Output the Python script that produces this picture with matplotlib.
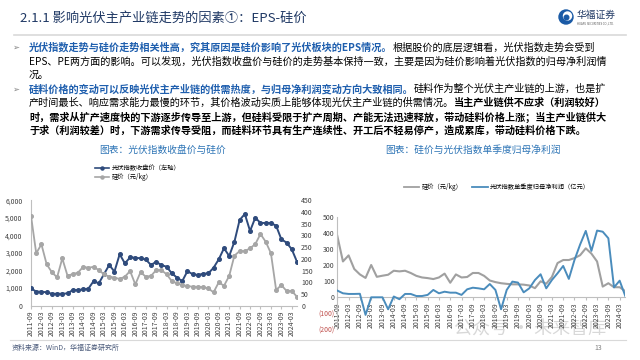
import matplotlib
matplotlib.use("Agg")
import matplotlib.pyplot as plt
from matplotlib.lines import Line2D
from matplotlib.patches import Circle

plt.rcParams['font.family'] = ['Noto Sans CJK SC', 'DejaVu Sans']
plt.rcParams['axes.unicode_minus'] = False

# quarterly data, 2011-09 .. 2024-06
quarters = ['2011-09', '2011-12',
            '2012-03', '2012-06', '2012-09', '2012-12',
            '2013-03', '2013-06', '2013-09', '2013-12',
            '2014-03', '2014-06', '2014-09', '2014-12',
            '2015-03', '2015-06', '2015-09', '2015-12',
            '2016-03', '2016-06', '2016-09', '2016-12',
            '2017-03', '2017-06', '2017-09', '2017-12',
            '2018-03', '2018-06', '2018-09', '2018-12',
            '2019-03', '2019-06', '2019-09', '2019-12',
            '2020-03', '2020-06', '2020-09', '2020-12',
            '2021-03', '2021-06', '2021-09', '2021-12',
            '2022-03', '2022-06', '2022-09', '2022-12',
            '2023-03', '2023-06', '2023-09', '2023-12',
            '2024-03', '2024-06']

# 光伏指数收盘价 (left axis)
pv_close = [990, 800, 800, 760, 680, 680, 680, 700, 890, 890,
            930, 970, 1400, 1270, 1800, 2320, 1940, 2930, 2410, 2750,
            2730, 2700, 2630, 2320, 2500, 2310, 2220, 1840, 1600, 1400,
            1970, 1790, 1750, 1820, 1840, 2160, 2640, 3270, 2830, 3640,
            4880, 5220, 4250, 5010, 4710, 4710, 4710, 4550, 3780, 3590,
            3210, 2500]

# 硅价 (元/kg)
si_price = [384, 224, 262, 177, 143, 121, 202, 128, 135, 141,
            166, 162, 166, 152, 134, 124, 120, 114, 124, 148,
            91, 143, 124, 127, 152, 152, 134, 105, 95, 88,
            84, 81, 81, 79, 74, 57, 100, 85, 127, 214,
            233, 233, 245, 263, 306, 273, 224, 67, 88, 63,
            63, 38]

# 光伏指数单季度归母净利润 (亿元)
net_profit = [42, 25, 21, 21, 22, -110, 0, 0, 0, -75,
              5, -12, 21, 21, 8, 8, 15, 46, 25, 35,
              29, 29, 15, 50, 60, 56, 50, 83, 46, -75,
              46, 98, 92, 31, 56, 108, 144, 56, 108, 150,
              196, 115, 233, 330, 415, 290, 417, 410, 369, 62,
              104, 8]

left_yticks = [0, 1000, 2000, 3000, 4000, 5000, 6000]
right_yticks = [0, 50, 100, 150, 200, 250, 300, 350, 400, 450]
profit_yticks = [-200, -100, 0, 100, 200, 300, 400, 500]

W, H = 640, 360
fig = plt.figure(figsize=(6.4, 3.6), dpi=100)
fig.patch.set_facecolor('white')

# full-figure layer in pixel coordinates for slide text
bg = fig.add_axes([0, 0, 1, 1])
bg.set_xlim(0, W)
bg.set_ylim(H, 0)
bg.axis('off')

title_col = '#1f3864'
blue_txt = '#1f5fae'

bg.text(20, 18, '2.1.1 影响光伏主产业链走势的因素①：EPS-硅价', fontsize=9.5,
        color=title_col, va='center', ha='left')
bg.plot([14, 626], [35, 35], color='#d9d9d9', lw=1.2)

# logo
bg.add_patch(Circle((566, 17), 7, color='#1a5aa6'))
bg.add_patch(Circle((567.5, 16), 4, color='white'))
bg.add_patch(Circle((566.5, 17.5), 2.3, color='#1a5aa6'))
bg.text(577, 15, '华福证券', fontsize=7, color='#1f3864', va='center', ha='left')
bg.text(577, 23, 'HUAFU SECURITIES CO.,LTD.', fontsize=2, color='#555555',
        va='center', ha='left')


def rich_line(x, y, parts, size=7.3):
    prev = None
    for txt, color, weight in parts:
        if prev is None:
            prev = bg.text(x, y, txt, color=color, fontweight=weight,
                           fontsize=size, va='center', ha='left')
        else:
            prev = bg.annotate(txt, xy=(1, 0), xycoords=prev, va='bottom',
                               ha='left', color=color, fontweight=weight,
                               fontsize=size)


tx = 29
for yb in [47, 89]:
    bg.text(12, yb, '➢', fontsize=6, color='#7f7f7f', va='center', ha='left')

rich_line(tx, 47, [('光伏指数走势与硅价走势相关性高，究其原因是硅价影响了光伏板块的EPS情况。', blue_txt, 'bold'),
                   ('根据股价的底层逻辑看，光伏指数走势会受到', 'black', 'normal')])
rich_line(tx, 61, [('EPS、PE两方面的影响。可以发现，光伏指数收盘价与硅价的走势基本保持一致，主要是因为硅价影响着光伏指数的归母净利润情', 'black', 'normal')])
rich_line(tx, 75, [('况。', 'black', 'normal')])
rich_line(tx, 89, [('硅料价格的变动可以反映光伏主产业链的供需热度，与归母净利润变动方向大致相同。', blue_txt, 'bold'),
                   ('硅料作为整个光伏主产业链的上游，也是扩', 'black', 'normal')])
rich_line(tx, 103, [('产时间最长、响应需求能力最慢的环节，其价格波动实质上能够体现光伏主产业链的供需情况。', 'black', 'normal'),
                    ('当主产业链供不应求（利润较好）', 'black', 'bold')])
rich_line(tx, 117, [('时，需求从扩产速度快的下游逐步传导至上游，但硅料受限于扩产周期、产能无法迅速释放，带动硅料价格上涨；当主产业链供大', 'black', 'bold')])
rich_line(tx, 131, [('于求（利润较差）时，下游需求传导受阻，而硅料环节具有生产连续性、开工后不轻易停产，造成累库，带动硅料价格下跌。', 'black', 'bold')])

cap_col = '#2e75b6'
bg.text(163, 150, '图表：光伏指数收盘价与硅价', fontsize=7, color=cap_col, ha='center', va='center')
bg.text(473, 150, '图表：硅价与光伏指数单季度归母净利润', fontsize=7, color=cap_col, ha='center', va='center')

# footer
bg.plot([10, 626], [340, 340], color='#d9d9d9', lw=0.8)
bg.text(12, 348, '资料来源：WinD，华福证券研究所', fontsize=5, color='#4a5a7a',
        style='italic', va='center', ha='left')
bg.text(598, 348, '13', fontsize=5, color='#7f7f7f', va='center', ha='center')

x = list(range(len(quarters)))
xt = x[::2]
xl = quarters[::2]
grid_col = '#bfbfbf'

# ---- left chart
ax1 = fig.add_axes([31 / W, 1 - 305.7 / H, 266 / W, 105.4 / H])
ax1.set_facecolor('none')
dark = '#2f4b7c'
grey = '#a6a6a6'
ax1.plot(x, pv_close, color=dark, lw=1.4, marker='o', ms=2.6, zorder=3)
ax1.set_ylim(0, 6000)
ax1.set_xlim(0, 51)
ax1.set_yticks(left_yticks)
ax1.set_yticklabels([f'{v:,}' for v in left_yticks])
ax1.set_xticks(xt)
ax1.set_xticklabels(xl, rotation=90)
ax1.tick_params(axis='y', length=0, labelsize=5, pad=6, colors='#404040')
ax1.tick_params(axis='x', length=2, labelsize=5, pad=1.5, colors='#404040', color=grid_col)
for s in ['top', 'right']:
    ax1.spines[s].set_visible(False)
ax1.spines['left'].set_color(grid_col)
ax1.spines['bottom'].set_color(grid_col)
ax1.spines['left'].set_linewidth(0.8)
ax1.spines['bottom'].set_linewidth(0.8)

ax1b = ax1.twinx()
ax1b.plot(x, si_price, color=grey, lw=1.3, marker='o', ms=2.6, zorder=2)
ax1b.set_ylim(0, 450)
ax1b.set_yticks(right_yticks)
ax1b.tick_params(axis='y', length=0, labelsize=5, pad=3, colors='#404040')
for s in ['top', 'right', 'left', 'bottom']:
    ax1b.spines[s].set_visible(False)

handles = [Line2D([], [], color=dark, lw=1.2, marker='o', ms=2.2),
           Line2D([], [], color=grey, lw=1.2, marker='o', ms=2.2)]
fig.legend(handles, ['光伏指数收盘价（左轴）', '硅价（元/kg）'], loc='upper left',
           bbox_to_anchor=(92 / W, 1 - 161 / H), frameon=False, fontsize=4.5,
           handlelength=2.2, labelspacing=0.2, handletextpad=0.4, borderpad=0)

# ---- right chart
ax2 = fig.add_axes([337.3 / W, 1 - 329.3 / H, 288 / W, 112 / H])
ax2.set_facecolor('none')
ax2.spines['bottom'].set_position(('data', 0))
steel = '#4a8cbc'
ax2.plot(x, si_price, color='#a0a0a0', lw=1.5, zorder=2)
ax2.plot(x, net_profit, color=steel, lw=1.4, zorder=3)
ax2.set_ylim(-200, 500)
ax2.set_xlim(0, 51)
ax2.set_yticks(profit_yticks)
ax2.set_yticklabels([f'({-v})' if v < 0 else str(v) for v in profit_yticks])
for lab, v in zip(ax2.get_yticklabels(), profit_yticks):
    lab.set_color('#c0504d' if v < 0 else '#404040')
ax2.set_xticks(xt)
ax2.set_xticklabels(xl, rotation=90)
ax2.tick_params(axis='y', length=0, labelsize=5, pad=2)
ax2.tick_params(axis='x', length=2, labelsize=5, pad=1.5, labelcolor='#404040', color=grid_col)
for s in ['top', 'right']:
    ax2.spines[s].set_visible(False)
ax2.spines['left'].set_color(grid_col)
ax2.spines['bottom'].set_color(grid_col)
ax2.spines['left'].set_linewidth(0.8)
ax2.spines['bottom'].set_linewidth(0.8)

handles2 = [Line2D([], [], color='#a0a0a0', lw=1.3),
            Line2D([], [], color=steel, lw=1.3)]
fig.legend(handles2, ['硅价（元/kg）', '光伏指数单季度归母净利润（亿元）'], loc='center',
           bbox_to_anchor=(497 / W, 1 - 187 / H), ncol=2, frameon=False,
           fontsize=4.5, handlelength=2.5, columnspacing=1.5, handletextpad=0.4,
           borderpad=0)

# watermark
bg.text(530, 330, '公众号 · 未来智库', fontsize=13, color='#c8c8c8', alpha=0.7,
        ha='center', va='center', zorder=10)

fig.savefig('out.png', dpi=100)
